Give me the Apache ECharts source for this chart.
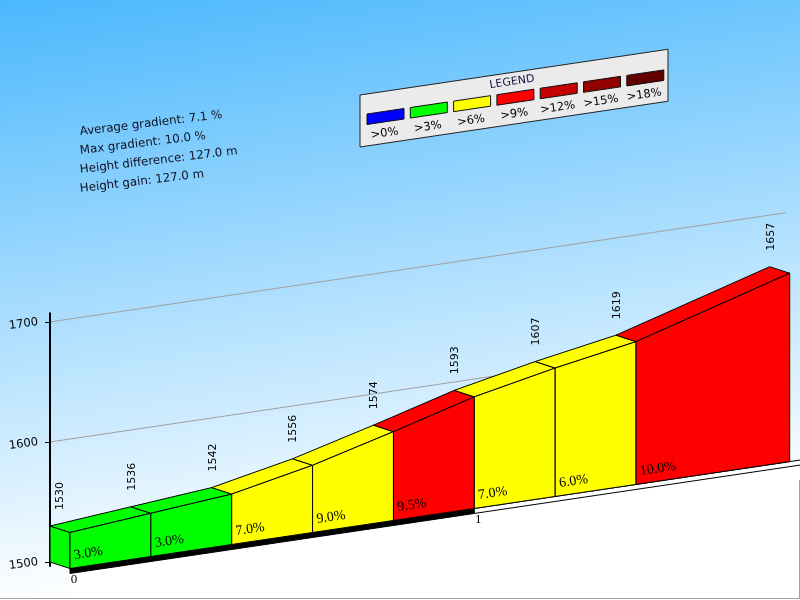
<!DOCTYPE html>
<html><head><meta charset="utf-8">
<script src="https://cdn.jsdelivr.net/npm/echarts@6/dist/echarts.min.js"></script>
<style>html,body{margin:0;padding:0;background:#fff}#c{width:800px;height:600px;}</style>
</head><body><div id="c"></div>
<script>
// ---- data ----
const distances = [0, 0.2, 0.4, 0.6, 0.8, 1.0, 1.2, 1.4, 1.78];           // km
const elevations = [1530, 1536, 1542, 1556, 1574, 1593, 1607, 1619, 1657]; // m
const gradients = [3.0, 3.0, 7.0, 9.0, 9.5, 7.0, 6.0, 10.0];              // %
const gradientClass = [1, 1, 2, 2, 3, 2, 2, 3];                            // index into legend
const legendLabels = ['>0%', '>3%', '>6%', '>9%', '>12%', '>15%', '>18%'];
const legendColors = ['#0000ff', '#00ff00', '#ffff00', '#ff0000', '#c40000', '#920000', '#620000'];
const gridLineValues = [1600, 1700];
const kmTicks = [0, 1];
const kmBands = [[0, 1, 0], [1, 1.85, 1]];
const statsLines = ['Average gradient: 7.1 %', 'Max gradient: 10.0 %', 'Height difference: 127.0 m', 'Height gain: 127.0 m'];
const baseElevation = 1500;
const yMin = 1500, yMax = 1700, yInterval = 100;
const xMin = 0, xMax = 1.85;
const axisLineRange = [1496, 1708];
const gridLineEnd = 1.82;

// ---- look ----
const SHEAR = 0.1485, DEPTH_X = 20, DEPTH_Y = 6.5, BAND = 5;
const ANG = Math.atan(SHEAR);

function proj(api) {
  const ox = api.coord([xMin, yMin])[0];
  const back = (d, h) => { const p = api.coord([d, h]); return [p[0], p[1] - SHEAR * (p[0] - ox)]; };
  const front = (d, h) => { const p = back(d, h); return [p[0] + DEPTH_X, p[1] + DEPTH_Y]; };
  return { back, front };
}

const segments = gradients.map((g, i) => [distances[i], elevations[i], distances[i + 1], elevations[i + 1], g, gradientClass[i]]);
const points = distances.map((d, i) => [d, elevations[i]]);

// legend graphic
const LG = { x: 360, y: 95, w: 308, h: 52 };
const legendGraphic = [];
legendGraphic.push({
  type: 'polygon', z: 10,
  shape: { points: [[LG.x, LG.y], [LG.x + LG.w, LG.y - LG.w * SHEAR], [LG.x + LG.w, LG.y - LG.w * SHEAR + LG.h], [LG.x, LG.y + LG.h]] },
  style: { fill: '#ebebeb', stroke: '#222', lineWidth: 1 }
});
legendGraphic.push({
  type: 'text', z: 11, x: 512, y: 82, rotation: ANG,
  style: { text: 'LEGEND', font: '11px "DejaVu Sans"', fill: '#101040', align: 'center', verticalAlign: 'middle' }
});
legendLabels.forEach((lab, i) => {
  const sx = 367 + 43.3 * i, sy = 114 - SHEAR * (sx - 367), sw = 37, sh = 10.5;
  legendGraphic.push({
    type: 'polygon', z: 11,
    shape: { points: [[sx, sy], [sx + sw, sy - sw * SHEAR], [sx + sw, sy - sw * SHEAR + sh], [sx, sy + sh]] },
    style: { fill: legendColors[i], stroke: '#111', lineWidth: 1 }
  });
  const cx = sx + sw / 2, cy = sy + sh / 2 - (sw / 2) * SHEAR;
  legendGraphic.push({
    type: 'text', z: 11, x: cx - 1, y: cy + 17, rotation: ANG,
    style: { text: lab, font: '11.5px "DejaVu Sans"', fill: '#000', align: 'center', verticalAlign: 'middle' }
  });
});
const statsGraphic = statsLines.map((t, i) => ({
  type: 'text', z: 11, x: 80, y: 132 + 19 * i, rotation: Math.atan(0.12),
  style: { text: t, font: '11.8px "DejaVu Sans"', fill: '#101020', align: 'left', verticalAlign: 'middle' }
}));
const borderGraphic = [
  { type: 'line', z: 12, shape: { x1: 0, y1: 598.5, x2: 800, y2: 598.5 }, style: { stroke: '#a0a0a0', lineWidth: 1 } },
  { type: 'line', z: 12, shape: { x1: 799.5, y1: 480, x2: 799.5, y2: 598 }, style: { stroke: '#a0a0a0', lineWidth: 1 } }
];

const chart = echarts.init(document.getElementById('c'), null, { renderer: 'canvas' });
chart.setOption({
  animation: false,
  backgroundColor: new echarts.graphic.LinearGradient(0, 0, 93, 649, [
    { offset: 0, color: '#4bb8fd' }, { offset: 0.92, color: '#ffffff' }, { offset: 1, color: '#ffffff' }
  ], true),
  grid: { left: 50, right: 2, top: 322, bottom: 38, outerBoundsMode: 'none' },
  xAxis: { type: 'value', min: xMin, max: xMax, show: false },
  yAxis: {
    type: 'value', min: yMin, max: yMax, interval: yInterval,
    axisLine: { show: false },
    axisTick: { show: true, length: 5, lineStyle: { color: '#000' } },
    axisLabel: { color: '#000', fontFamily: 'DejaVu Sans', fontSize: 11.5, margin: 12, rotate: 8, formatter: v => String(v) },
    splitLine: { show: false }
  },
  graphic: [...legendGraphic, ...statsGraphic, ...borderGraphic],
  series: [
    { // grid lines on back plane
      type: 'custom', z: 1, silent: true,
      data: gridLineValues.map(v => [xMin, v]),
      renderItem(params, api) {
        const { back } = proj(api);
        const a = back(api.value(0), api.value(1)), b = back(gridLineEnd, api.value(1));
        return { type: 'line', shape: { x1: a[0], y1: a[1], x2: b[0], y2: b[1] }, style: { stroke: '#a0a0a0', lineWidth: 1 } };
      }
    },
    { // y axis line
      type: 'custom', z: 1, silent: true,
      data: [[xMin, axisLineRange[0], axisLineRange[1]]],
      renderItem(params, api) {
        const { back } = proj(api);
        const a = back(api.value(0), api.value(1)), b = back(api.value(0), api.value(2));
        return { type: 'line', shape: { x1: a[0], y1: a[1], x2: b[0], y2: b[1] }, style: { stroke: '#000', lineWidth: 2 } };
      }
    },
    { // floor
      type: 'custom', z: 1, silent: true,
      data: [[xMin, baseElevation, xMax]],
      renderItem(params, api) {
        const { front } = proj(api);
        const a = front(api.value(0), api.value(1)), b = front(api.value(2), api.value(1));
        const H = api.getHeight() - 2;
        return { type: 'polygon', shape: { points: [[a[0], a[1] + BAND], [b[0], b[1] + BAND], [b[0], H], [a[0], H]] }, style: { fill: '#ffffff' } };
      }
    },
    { // km band
      type: 'custom', z: 2, silent: true,
      data: kmBands,
      renderItem(params, api) {
        const { front } = proj(api);
        const a = front(api.value(0), baseElevation), b = front(api.value(1), baseElevation);
        const black = api.value(2) === 0;
        return { type: 'polygon', shape: { points: [a, b, [b[0], b[1] + BAND], [a[0], a[1] + BAND]] },
          style: { fill: black ? '#000' : '#fff', stroke: '#000', lineWidth: 1 } };
      }
    },
    { // km tick labels
      type: 'custom', z: 4, silent: true,
      data: kmTicks.map(k => [k, baseElevation]),
      renderItem(params, api) {
        const { front } = proj(api);
        const p = front(api.value(0), api.value(1));
        return { type: 'text', x: p[0] + 4, y: p[1] + 11,
          style: { text: String(api.value(0)), font: '13px "Liberation Serif"', fill: '#000', align: 'center', verticalAlign: 'middle' } };
      }
    },
    { // profile segments
      type: 'custom', z: 3, silent: true,
      data: segments,
      renderItem(params, api) {
        const { back, front } = proj(api);
        const d0 = api.value(0), h0 = api.value(1), d1 = api.value(2), h1 = api.value(3), g = api.value(4), c = api.value(5);
        const st = { fill: legendColors[c], stroke: '#000', lineWidth: 1 };
        const ch = [];
        if (params.dataIndex === 0) {
          ch.push({ type: 'polygon', shape: { points: [back(d0, h0), front(d0, h0), front(d0, baseElevation), back(d0, baseElevation)] }, style: st });
        }
        ch.push({ type: 'polygon', shape: { points: [back(d0, h0), back(d1, h1), front(d1, h1), front(d0, h0)] }, style: st });
        ch.push({ type: 'polygon', shape: { points: [front(d0, baseElevation), front(d0, h0), front(d1, h1), front(d1, baseElevation)] }, style: st });
        const a = front(d0, baseElevation);
        ch.push({ type: 'text', x: a[0] + 4, y: a[1] - 13, rotation: ANG,
          style: { text: g.toFixed(1) + '%', font: '14px "Liberation Serif"', fill: '#000', align: 'left', verticalAlign: 'middle' } });
        return { type: 'group', children: ch };
      }
    },
    { // elevation labels
      type: 'custom', z: 4, silent: true,
      data: points,
      renderItem(params, api) {
        const { back } = proj(api);
        const p = back(api.value(0), api.value(1));
        const dx = params.dataIndex === 0 ? 10 : 1;
        return { type: 'text', x: p[0] + dx, y: p[1] - 16, rotation: Math.PI / 2,
          style: { text: String(api.value(1)), font: '11px "DejaVu Sans"', fill: '#000', align: 'left', verticalAlign: 'middle' } };
      }
    }
  ]
});
</script>
</body></html>
